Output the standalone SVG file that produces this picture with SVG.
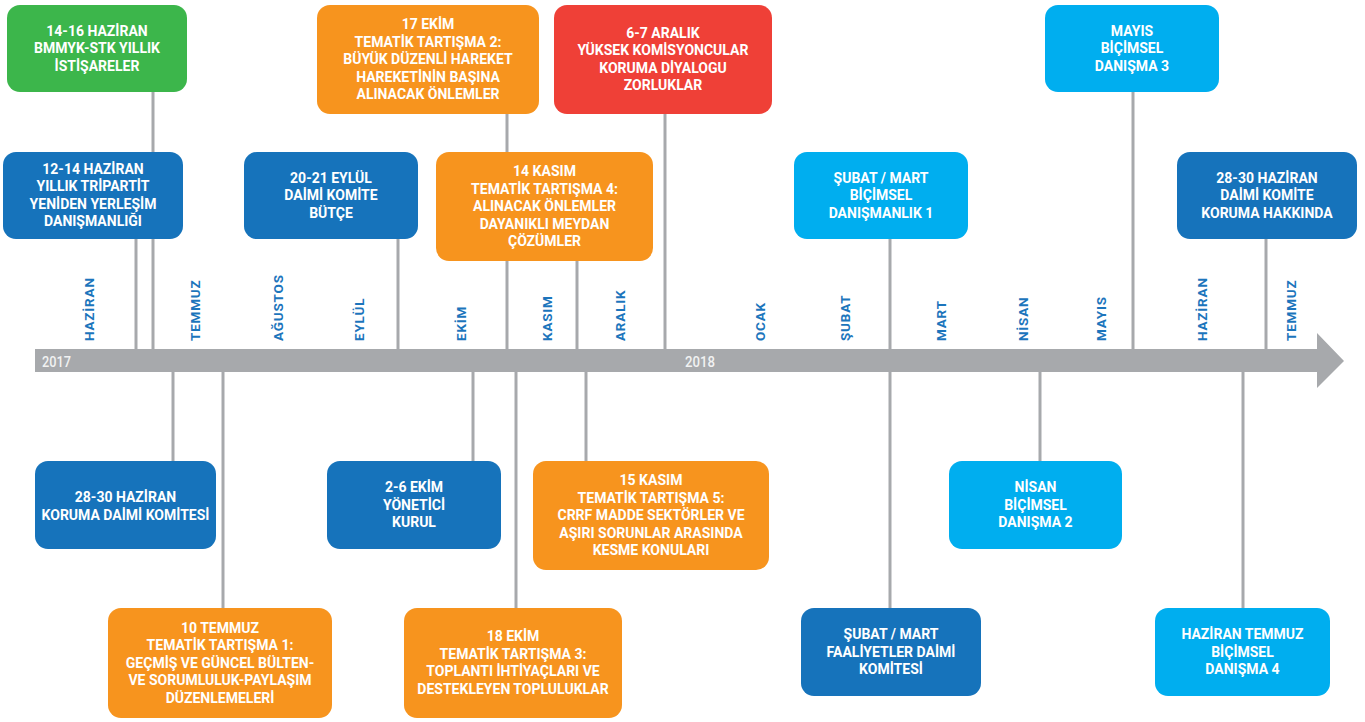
<svg xmlns="http://www.w3.org/2000/svg" width="1365" height="722" viewBox="0 0 1365 722">
<style>
.box{stroke:none}
.g{fill:#3cb64b}.o{fill:#f7941e}.r{fill:#ef4037}.db{fill:#1673bb}.lb{fill:#00aeef}
.t{font-family:Roboto,"Liberation Sans",sans-serif;font-weight:bold;font-size:14px;fill:#ffffff;text-anchor:middle}
.m{font-family:Roboto,"Liberation Sans",sans-serif;font-weight:bold;font-size:13.5px;fill:#1c75bc;letter-spacing:0.8px}
.y{font-family:Roboto,"Liberation Sans",sans-serif;font-weight:500;font-size:15px;fill:#f1f2f2}
.c{stroke:#a7a9ac;stroke-width:3;fill:none}
</style>
<rect width="1365" height="722" fill="#ffffff"/>
<g id="connectors">
<line class="c" x1="153" y1="92" x2="153" y2="350"/>
<line class="c" x1="136" y1="239" x2="136" y2="350"/>
<line class="c" x1="398" y1="239" x2="398" y2="350"/>
<line class="c" x1="507" y1="113" x2="507" y2="350"/>
<line class="c" x1="577" y1="260" x2="577" y2="350"/>
<line class="c" x1="665" y1="113" x2="665" y2="350"/>
<line class="c" x1="890" y1="239" x2="890" y2="350"/>
<line class="c" x1="1133" y1="92" x2="1133" y2="350"/>
<line class="c" x1="1266" y1="239" x2="1266" y2="350"/>
<line class="c" x1="173" y1="371" x2="173" y2="461"/>
<line class="c" x1="223" y1="371" x2="223" y2="608"/>
<line class="c" x1="473" y1="371" x2="473" y2="461"/>
<line class="c" x1="516" y1="371" x2="516" y2="608"/>
<line class="c" x1="586" y1="371" x2="586" y2="461"/>
<line class="c" x1="890" y1="371" x2="890" y2="608"/>
<line class="c" x1="1040" y1="371" x2="1040" y2="461"/>
<line class="c" x1="1243" y1="371" x2="1243" y2="608"/>
</g>
<g id="axis">
<path d="M35 349 H1317 V333 L1344 361 L1317 388 V372 H35 Z" fill="#a7a9ac"/>
<text class="y" x="42" y="367" textLength="29" lengthAdjust="spacingAndGlyphs">2017</text>
<text class="y" x="685" y="367" textLength="30" lengthAdjust="spacingAndGlyphs">2018</text>
<text class="m" transform="translate(94,341) rotate(-90)">HAZİRAN</text>
<text class="m" transform="translate(200,341) rotate(-90)">TEMMUZ</text>
<text class="m" transform="translate(283,341) rotate(-90)">AĞUSTOS</text>
<text class="m" transform="translate(364,341) rotate(-90)">EYLÜL</text>
<text class="m" transform="translate(466,341) rotate(-90)">EKİM</text>
<text class="m" transform="translate(552,341) rotate(-90)">KASIM</text>
<text class="m" transform="translate(625,341) rotate(-90)">ARALIK</text>
<text class="m" transform="translate(765,341) rotate(-90)">OCAK</text>
<text class="m" transform="translate(850,341) rotate(-90)">ŞUBAT</text>
<text class="m" transform="translate(946,341) rotate(-90)">MART</text>
<text class="m" transform="translate(1028,341) rotate(-90)">NİSAN</text>
<text class="m" transform="translate(1106,341) rotate(-90)">MAYIS</text>
<text class="m" transform="translate(1207,341) rotate(-90)">HAZİRAN</text>
<text class="m" transform="translate(1296,341) rotate(-90)">TEMMUZ</text>
</g>
<g id="n1"><rect class="box g" x="7" y="5" width="180" height="87" rx="13"/>
<text class="t" x="97" y="35.5"><tspan x="97">14-16 HAZİRAN</tspan><tspan x="97" dy="17.5">BMMYK-STK YILLIK</tspan><tspan x="97" dy="17.5">İSTİŞARELER</tspan></text></g>
<g id="n2"><rect class="box o" x="317" y="5" width="222" height="109" rx="13"/>
<text class="t" x="428" y="29"><tspan x="428">17 EKİM</tspan><tspan x="428" dy="17.5">TEMATİK TARTIŞMA 2:</tspan><tspan x="428" dy="17.5">BÜYÜK DÜZENLİ HAREKET</tspan><tspan x="428" dy="17.5">HAREKETİNİN BAŞINA</tspan><tspan x="428" dy="17.5">ALINACAK ÖNLEMLER</tspan></text></g>
<g id="n3"><rect class="box r" x="554" y="5" width="218" height="109" rx="13"/>
<text class="t" x="663" y="37.75"><tspan x="663">6-7 ARALIK</tspan><tspan x="663" dy="17.5">YÜKSEK KOMİSYONCULAR</tspan><tspan x="663" dy="17.5">KORUMA DİYALOGU</tspan><tspan x="663" dy="17.5">ZORLUKLAR</tspan></text></g>
<g id="n4"><rect class="box lb" x="1045" y="5" width="174" height="87" rx="13"/>
<text class="t" x="1132" y="35.5"><tspan x="1132">MAYIS</tspan><tspan x="1132" dy="17.5">BİÇİMSEL</tspan><tspan x="1132" dy="17.5">DANIŞMA 3</tspan></text></g>
<g id="n5"><rect class="box db" x="3" y="152" width="180" height="87" rx="13"/>
<text class="t" x="93" y="173.75"><tspan x="93">12-14 HAZİRAN</tspan><tspan x="93" dy="17.5">YILLIK TRİPARTİT</tspan><tspan x="93" dy="17.5">YENİDEN YERLEŞİM</tspan><tspan x="93" dy="17.5">DANIŞMANLIĞI</tspan></text></g>
<g id="n6"><rect class="box db" x="244" y="152" width="174" height="87" rx="13"/>
<text class="t" x="331" y="182.5"><tspan x="331">20-21 EYLÜL</tspan><tspan x="331" dy="17.5">DAİMİ KOMİTE</tspan><tspan x="331" dy="17.5">BÜTÇE</tspan></text></g>
<g id="n7"><rect class="box o" x="436" y="152" width="217" height="109" rx="13"/>
<text class="t" x="544.5" y="176"><tspan x="544.5">14 KASIM</tspan><tspan x="544.5" dy="17.5">TEMATİK TARTIŞMA 4:</tspan><tspan x="544.5" dy="17.5">ALINACAK ÖNLEMLER</tspan><tspan x="544.5" dy="17.5">DAYANIKLI MEYDAN</tspan><tspan x="544.5" dy="17.5">ÇÖZÜMLER</tspan></text></g>
<g id="n8"><rect class="box lb" x="794" y="152" width="174" height="87" rx="13"/>
<text class="t" x="881" y="182.5"><tspan x="881">ŞUBAT / MART</tspan><tspan x="881" dy="17.5">BİÇİMSEL</tspan><tspan x="881" dy="17.5">DANIŞMANLIK 1</tspan></text></g>
<g id="n9"><rect class="box db" x="1177" y="152" width="180" height="87" rx="13"/>
<text class="t" x="1267" y="182.5"><tspan x="1267">28-30 HAZİRAN</tspan><tspan x="1267" dy="17.5">DAİMİ KOMİTE</tspan><tspan x="1267" dy="17.5">KORUMA HAKKINDA</tspan></text></g>
<g id="n10"><rect class="box db" x="35" y="461" width="181" height="88" rx="13"/>
<text class="t" x="125.5" y="502"><tspan x="125.5">28-30 HAZİRAN</tspan><tspan x="125.5" dy="17.5">KORUMA DAİMİ KOMİTESİ</tspan></text></g>
<g id="n11"><rect class="box db" x="327" y="461" width="174" height="88" rx="13"/>
<text class="t" x="414" y="492"><tspan x="414">2-6 EKİM</tspan><tspan x="414" dy="17.5">YÖNETİCİ</tspan><tspan x="414" dy="17.5">KURUL</tspan></text></g>
<g id="n12"><rect class="box o" x="533" y="461" width="236" height="109" rx="13"/>
<text class="t" x="651" y="485"><tspan x="651">15 KASIM</tspan><tspan x="651" dy="17.5">TEMATİK TARTIŞMA 5:</tspan><tspan x="651" dy="17.5">CRRF MADDE SEKTÖRLER VE</tspan><tspan x="651" dy="17.5">AŞIRI SORUNLAR ARASINDA</tspan><tspan x="651" dy="17.5">KESME KONULARI</tspan></text></g>
<g id="n13"><rect class="box lb" x="949" y="461" width="173" height="88" rx="13"/>
<text class="t" x="1035.5" y="492"><tspan x="1035.5">NİSAN</tspan><tspan x="1035.5" dy="17.5">BİÇİMSEL</tspan><tspan x="1035.5" dy="17.5">DANIŞMA 2</tspan></text></g>
<g id="n14"><rect class="box o" x="108" y="608" width="224" height="110" rx="13"/>
<text class="t" x="220" y="632.5"><tspan x="220">10 TEMMUZ</tspan><tspan x="220" dy="17.5">TEMATİK TARTIŞMA 1:</tspan><tspan x="220" dy="17.5">GEÇMİŞ VE GÜNCEL BÜLTEN-</tspan><tspan x="220" dy="17.5">VE SORUMLULUK-PAYLAŞIM</tspan><tspan x="220" dy="17.5">DÜZENLEMELERİ</tspan></text></g>
<g id="n15"><rect class="box o" x="404" y="608" width="218" height="110" rx="13"/>
<text class="t" x="513" y="641.25"><tspan x="513">18 EKİM</tspan><tspan x="513" dy="17.5">TEMATİK TARTIŞMA 3:</tspan><tspan x="513" dy="17.5">TOPLANTI İHTİYAÇLARI VE</tspan><tspan x="513" dy="17.5">DESTEKLEYEN TOPLULUKLAR</tspan></text></g>
<g id="n16"><rect class="box db" x="801" y="608" width="180" height="88" rx="13"/>
<text class="t" x="891" y="639"><tspan x="891">ŞUBAT / MART</tspan><tspan x="891" dy="17.5">FAALİYETLER DAİMİ</tspan><tspan x="891" dy="17.5">KOMİTESİ</tspan></text></g>
<g id="n17"><rect class="box lb" x="1155" y="608" width="175" height="88" rx="13"/>
<text class="t" x="1242.5" y="639"><tspan x="1242.5">HAZİRAN TEMMUZ</tspan><tspan x="1242.5" dy="17.5">BİÇİMSEL</tspan><tspan x="1242.5" dy="17.5">DANIŞMA 4</tspan></text></g>
</svg>
